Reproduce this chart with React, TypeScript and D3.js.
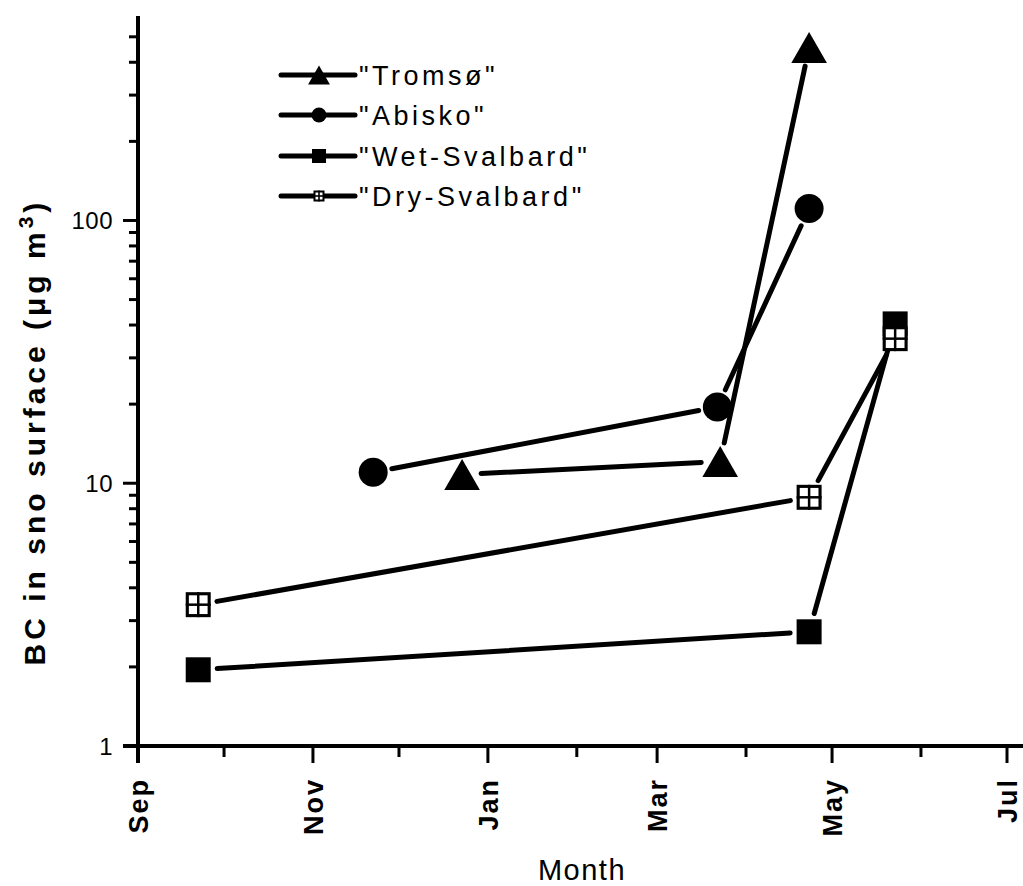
import React from 'react';
import * as d3 from 'd3';

// data (BC in surface snow, log scale)
const tromsoDates = ['2010-12-23', '2011-03-23', '2011-04-23'];
const tromsoValues = [10.8, 12.1, 455];

const abiskoDates = ['2010-11-22', '2011-03-22', '2011-04-23'];
const abiskoValues = [11.0, 19.5, 111];

const wetDates = ['2010-09-22', '2011-04-23', '2011-05-23'];
const wetValues = [1.95, 2.72, 40.4];

const dryDates = ['2010-09-22', '2011-04-23', '2011-05-23'];
const dryValues = [3.45, 8.84, 35.5];

const yLabels = [1, 10, 100];
const monthLabels = ['Sep', 'Nov', 'Jan', 'Mar', 'May', 'Jul'];
const legendNames = ['"Tromsø"', '"Abisko"', '"Wet-Svalbard"', '"Dry-Svalbard"'];

const parse = d3.timeParse('%Y-%m-%d');
const FONT = '"Liberation Sans", Arial, sans-serif';

function Marker({ kind, x, y, s }: { kind: string; x: number; y: number; s: number }) {
  if (kind === 'tri') {
    const w = s * 1.15, h = s;
    return <path d={`M${x},${y - h / 2}L${x + w / 2},${y + h / 2}L${x - w / 2},${y + h / 2}Z`} fill="#000" />;
  }
  if (kind === 'circle') {
    return <circle cx={x} cy={y} r={s / 2} fill="#000" />;
  }
  if (kind === 'square') {
    return <rect x={x - s / 2} y={y - s / 2} width={s} height={s} fill="#000" />;
  }
  // hollow square with a cross
  const b = Math.max(2, s / 8);
  return (
    <g>
      <rect x={x - s / 2 + b / 2} y={y - s / 2 + b / 2} width={s - b} height={s - b} fill="#fff" stroke="#000" strokeWidth={b} />
      <line x1={x} x2={x} y1={y - s / 2} y2={y + s / 2} stroke="#000" strokeWidth={b * 0.8} />
      <line x1={x - s / 2} x2={x + s / 2} y1={y} y2={y} stroke="#000" strokeWidth={b * 0.8} />
    </g>
  );
}

export default function App() {
  const width = 1023, height = 886;

  const x = d3.scaleTime()
    .domain([parse('2010-09-01')!, parse('2011-07-01')!])
    .range([138, 1007]);
  const y = d3.scaleLog().domain([1, 600]).range([746, 16]);

  const series = [
    { name: legendNames[0], kind: 'tri', size: 31, dates: tromsoDates, values: tromsoValues },
    { name: legendNames[1], kind: 'circle', size: 29, dates: abiskoDates, values: abiskoValues },
    { name: legendNames[2], kind: 'square', size: 25, dates: wetDates, values: wetValues },
    { name: legendNames[3], kind: 'hollow', size: 25, dates: dryDates, values: dryValues },
  ];

  const x0 = x.range()[0];
  const y0 = y.range()[0];

  // y ticks
  const majorY = yLabels;
  const minorY: number[] = [];
  [1, 10, 100].forEach((d) => {
    for (let k = 2; k <= 9; k++) if (d * k < 600) minorY.push(d * k);
  });

  // x ticks (monthly)
  const months = d3.timeMonth.range(parse('2010-09-01')!, parse('2011-07-02')!);

  const gap = 19;
  let key = 0;
  const segs: JSX.Element[] = [];
  const marks: JSX.Element[] = [];
  series.forEach((s) => {
    const pts = s.dates.map((d, i) => [x(parse(d)!), y(s.values[i])]);
    for (let i = 0; i < pts.length - 1; i++) {
      const [ax, ay] = pts[i];
      const [bx, by] = pts[i + 1];
      const len = Math.hypot(bx - ax, by - ay);
      const ux = (bx - ax) / len, uy = (by - ay) / len;
      segs.push(
        <line key={key++} x1={ax + ux * gap} y1={ay + uy * gap} x2={bx - ux * gap} y2={by - uy * gap}
          stroke="#000" strokeWidth={5} strokeLinecap="round" />
      );
    }
    pts.forEach(([px, py]) => {
      marks.push(<Marker key={key++} kind={s.kind} x={px} y={py} s={s.size} />);
    });
  });

  const legendY = [75, 115, 156, 196];
  const legendMarkSize = [19, 15, 14, 11];

  return (
    <svg width={width} height={height} style={{ position: 'absolute', left: 0, top: 0, background: '#fff' }}
      fontFamily={FONT}>
      <rect width={width} height={height} fill="#fff" />

      {/* y axis */}
      <line x1={x0} x2={x0} y1={y.range()[1]} y2={y0 + 17} stroke="#000" strokeWidth={4} />
      {majorY.map((d) => (
        <g key={'my' + d}>
          <line x1={x0 - 15} x2={x0} y1={y(d)} y2={y(d)} stroke="#000" strokeWidth={3} />
          <text x={113} y={y(d)} dy="0.36em" textAnchor="end" fontSize={24} letterSpacing={0.5}>{d}</text>
        </g>
      ))}
      {minorY.map((d) => (
        <line key={'ny' + d} x1={x0 - 9} x2={x0} y1={y(d)} y2={y(d)} stroke="#000" strokeWidth={3} />
      ))}

      {/* x axis */}
      <line x1={x0 - 15} x2={width} y1={y0} y2={y0} stroke="#000" strokeWidth={4} />
      {months.map((m, i) => {
        const major = i % 2 === 0;
        return (
          <line key={'mx' + i} x1={x(m)} x2={x(m)} y1={y0} y2={y0 + (major ? 17 : 11)} stroke="#000" strokeWidth={3} />
        );
      })}
      {months.filter((_, i) => i % 2 === 0).map((m, i) => (
        <text key={'lx' + i} transform={`translate(${x(m)},${778}) rotate(-90)`} dy="0.36em"
          textAnchor="end" fontSize={27} fontWeight="bold" letterSpacing={2}>{monthLabels[i]}</text>
      ))}

      {/* axis titles */}
      <text x={582} y={880} textAnchor="middle" fontSize={29} letterSpacing={1.5}>Month</text>
      <text transform="translate(34,432) rotate(-90)" dy="0.36em" textAnchor="middle" fontSize={30}
        fontWeight="bold" letterSpacing={4}>
        BC in sno surface (μg m<tspan dy="-12" fontSize={21}>3</tspan><tspan dy="12">)</tspan>
      </text>

      {/* data */}
      {segs}
      {marks}

      {/* legend */}
      {series.map((s, i) => (
        <g key={'lg' + i}>
          <line x1={281} x2={355} y1={legendY[i]} y2={legendY[i]} stroke="#000" strokeWidth={5} strokeLinecap="round" />
          <Marker kind={s.kind} x={319} y={legendY[i]} s={legendMarkSize[i]} />
          <text x={359} y={legendY[i]} dy="0.36em" fontSize={27} letterSpacing={3.5}>{s.name}</text>
        </g>
      ))}
    </svg>
  );
}
